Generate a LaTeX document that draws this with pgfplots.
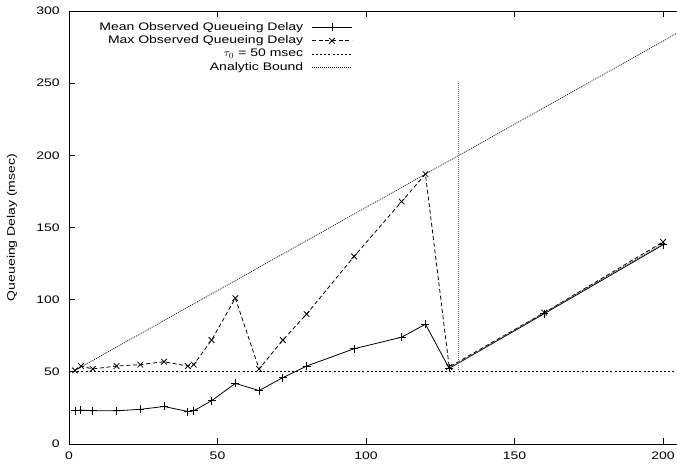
\documentclass[border=0pt]{standalone}
\usepackage{fontspec}
\setmainfont{Liberation Sans}[FakeStretch=1.28]
\usepackage{pgfplots}
\pgfplotsset{compat=1.18}

% Mean queueing delay observed at each load point
\pgfplotstableread{
x    y
2    23
4    23.5
8    23
16   23
24   24
32   26
40   22.5
42   23
48   30
56   42
64   37
72   46
80   54
96   66
112  74
120  83
128  52.4
160  90.3
200  138
}\meandelay

% Maximum queueing delay observed at each load point
\pgfplotstableread{
x    y
2    51
4    54
8    52
16   54
24   55
32   57
40   54
42   55
48   72
56   101
64   52
72   72
80   90
96   130
112  168
120  187
128  53.4
160  91
200  140
}\maxdelay

\begin{document}
\begin{tikzpicture}
\begin{axis}[
  scale only axis,
  width=456pt, height=324.75pt,
  xmin=0, xmax=204.7,
  ymin=0, ymax=300,
  axis x line=box,
  axis y line=left,
  axis line style={-, line width=0.6pt},
  tick align=inside,
  major tick length=4.5pt,
  tick style={line width=0.6pt, black},
  xtick={0,50,...,200},
  ytick={0,50,...,300},
  font=\fontsize{8.2}{10}\selectfont,
  /pgf/number format/assume math mode=true,
  ticklabel style={inner sep=0pt},
  xticklabel style={yshift=-6pt},
  yticklabel style={xshift=-6.75pt},
  ylabel={Queueing Delay (msec)},
  every axis y label/.style={at={(axis description cs:-0.09375,0.5)}, rotate=90, anchor=center},
  clip=false,
  legend style={draw=none, fill=none, at={(axis description cs:0.473,0.984)}, anchor=north east,
    legend cell align=right, row sep=0.2pt, nodes={inner sep=1.2pt},
    font=\fontsize{8.2}{10}\selectfont},
  legend plot pos=right,
  legend image code/.code={%
    \path (0pt,0pt);
    \draw[mark repeat=2,mark phase=2] plot coordinates {(5pt,0pt) (20pt,0pt) (35pt,0pt)};},
]
\addplot[black, line width=0.6pt, mark=+, mark size=3pt, mark options={solid, line width=0.6pt}] table {\meandelay};
\addlegendentry{Mean Observed Queueing Delay}
\addplot[black, line width=0.6pt, dash pattern=on 3pt off 2pt, mark=x, mark size=3pt, mark options={solid, line width=0.6pt}] table {\maxdelay};
\addlegendentry{Max Observed Queueing Delay}
\addplot[black, line width=0.6pt, dash pattern=on 1.5pt off 1.6pt] coordinates {(0,50) (204.7,50)};
\addlegendentry{$\tau_0$ = 50 msec}
\addplot[black!85, line width=0.6pt, dash pattern=on 0.75pt off 0.75pt] coordinates {(2,51) (204.7,284.6)};
\addlegendentry{Analytic Bound}
% bound beyond the saturation point
\addplot[black!55, line width=0.6pt, dash pattern=on 0.75pt off 0.75pt, forget plot] coordinates {(131,250) (131,50)};
\addplot[black!70, line width=0.6pt, dash pattern=on 0.75pt off 0.75pt, forget plot] coordinates {(128.5,53) (200,139)};
\end{axis}
\pgfresetboundingbox
\path (-51.75pt,-19.5pt) rectangle (456pt,333pt);
\end{tikzpicture}
\end{document}
